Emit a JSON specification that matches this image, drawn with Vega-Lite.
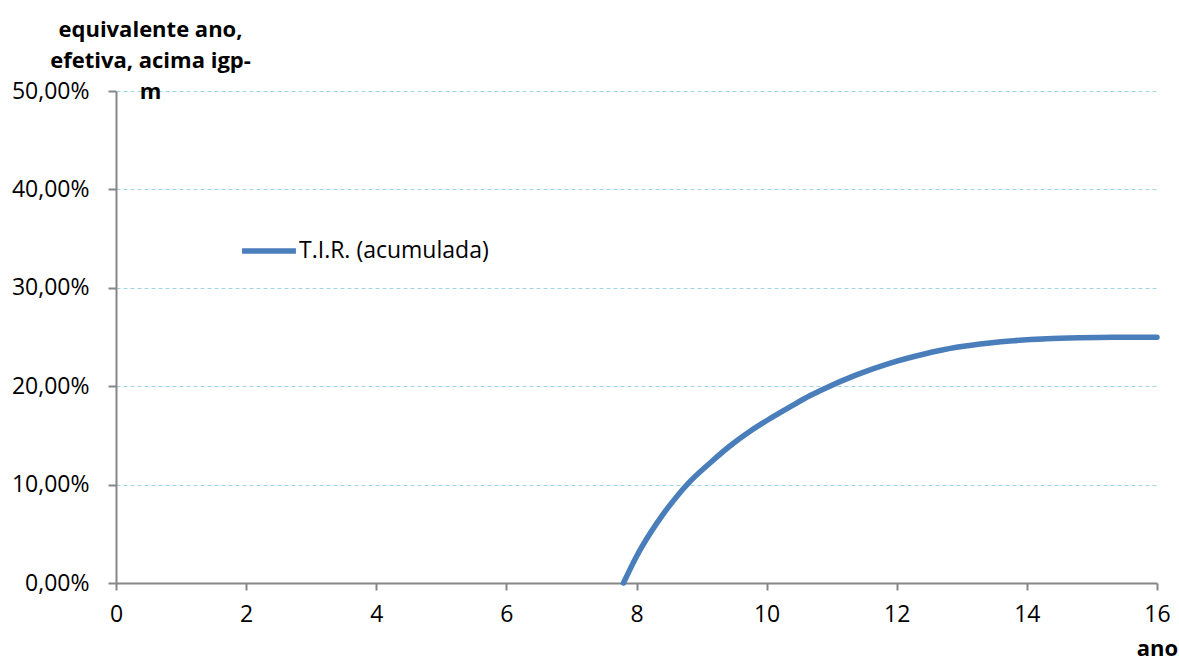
{
  "$schema": "https://vega.github.io/schema/vega-lite/v6.json",
  "width": 1041,
  "height": 492,
  "autosize": "none",
  "padding": {"left": 116, "top": 91, "right": 22, "bottom": 77},
  "background": "white",
  "config": {
    "view": {"stroke": null},
    "font": "Open Sans"
  },
  "data": {
    "values": [
      {"ano": 7.8, "tir": 0.0, "serie": "T.I.R. (acumulada)"},
      {"ano": 8.0, "tir": 0.027, "serie": "T.I.R. (acumulada)"},
      {"ano": 8.21, "tir": 0.0505, "serie": "T.I.R. (acumulada)"},
      {"ano": 8.41, "tir": 0.07, "serie": "T.I.R. (acumulada)"},
      {"ano": 8.62, "tir": 0.088, "serie": "T.I.R. (acumulada)"},
      {"ano": 8.82, "tir": 0.103, "serie": "T.I.R. (acumulada)"},
      {"ano": 9.13, "tir": 0.122, "serie": "T.I.R. (acumulada)"},
      {"ano": 9.44, "tir": 0.1395, "serie": "T.I.R. (acumulada)"},
      {"ano": 9.74, "tir": 0.154, "serie": "T.I.R. (acumulada)"},
      {"ano": 10.05, "tir": 0.167, "serie": "T.I.R. (acumulada)"},
      {"ano": 10.36, "tir": 0.179, "serie": "T.I.R. (acumulada)"},
      {"ano": 10.67, "tir": 0.1905, "serie": "T.I.R. (acumulada)"},
      {"ano": 10.87, "tir": 0.197, "serie": "T.I.R. (acumulada)"},
      {"ano": 11.38, "tir": 0.2115, "serie": "T.I.R. (acumulada)"},
      {"ano": 11.9, "tir": 0.2235, "serie": "T.I.R. (acumulada)"},
      {"ano": 12.41, "tir": 0.2325, "serie": "T.I.R. (acumulada)"},
      {"ano": 12.92, "tir": 0.2395, "serie": "T.I.R. (acumulada)"},
      {"ano": 13.43, "tir": 0.244, "serie": "T.I.R. (acumulada)"},
      {"ano": 13.79, "tir": 0.2462, "serie": "T.I.R. (acumulada)"},
      {"ano": 14.3, "tir": 0.2482, "serie": "T.I.R. (acumulada)"},
      {"ano": 14.82, "tir": 0.2492, "serie": "T.I.R. (acumulada)"},
      {"ano": 15.33, "tir": 0.2497, "serie": "T.I.R. (acumulada)"},
      {"ano": 16.0, "tir": 0.2498, "serie": "T.I.R. (acumulada)"}
    ]
  },
  "mark": {"type": "line", "interpolate": "monotone", "strokeWidth": 5.5, "strokeCap": "round"},
  "encoding": {
    "x": {
      "field": "ano",
      "type": "quantitative",
      "scale": {"domain": [0, 16], "nice": false, "zero": false},
      "axis": {
        "values": [0, 2, 4, 6, 8, 10, 12, 14, 16],
        "grid": false,
        "domainColor": "#868686",
        "domainWidth": 2,
        "tickColor": "#868686",
        "tickWidth": 2,
        "tickSize": 7,
        "labelFontSize": 23,
        "labelColor": "#000000",
        "labelPadding": 13,
        "labelFlush": false,
        "title": "ano",
        "titleFontSize": 22,
        "titleFontWeight": "bold",
        "titleColor": "#000000",
        "titleAlign": "center",
        "titleBaseline": "middle",
        "titleX": 1041,
        "titleY": 65
      }
    },
    "y": {
      "field": "tir",
      "type": "quantitative",
      "scale": {"domain": [0, 0.5], "nice": false},
      "axis": {
        "values": [0, 0.1, 0.2, 0.3, 0.4, 0.5],
        "labelExpr": "replace(format(datum.value, '.2%'), '.', ',')",
        "grid": true,
        "gridColor": "#9fd5e3",
        "gridDash": [4, 3],
        "gridWidth": 1.2,
        "domainColor": "#868686",
        "domainWidth": 2,
        "tickColor": "#868686",
        "tickWidth": 2,
        "tickSize": 8,
        "labelFontSize": 23,
        "labelColor": "#000000",
        "labelPadding": 19,
        "labelFlush": false,
        "title": ["equivalente ano,", "efetiva, acima igp-", "m"],
        "titleAngle": 0,
        "titleFontSize": 22,
        "titleFontWeight": "bold",
        "titleColor": "#000000",
        "titleAlign": "center",
        "titleBaseline": "alphabetic",
        "titleLineHeight": 31,
        "titleX": 34,
        "titleY": -55
      }
    },
    "color": {
      "field": "serie",
      "type": "nominal",
      "scale": {"range": ["#4a7ebb"]},
      "legend": {
        "orient": "none",
        "legendX": 123,
        "legendY": 130,
        "title": null,
        "symbolType": "stroke",
        "symbolSize": 2900,
        "symbolStrokeWidth": 5.5,
        "labelFontSize": 23,
        "labelLimit": 500,
        "labelColor": "#000000",
        "labelOffset": 0
      }
    }
  }
}
